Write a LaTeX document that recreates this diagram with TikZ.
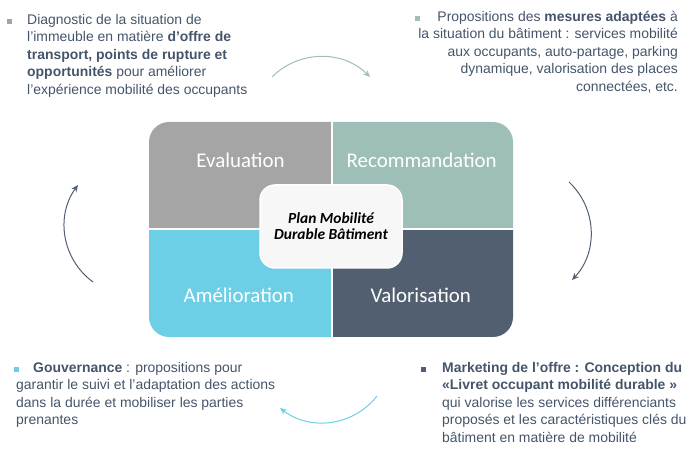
\documentclass[tikz,border=0pt]{standalone}
\usepackage{fontspec}
\setmainfont{Liberation Sans}
\newfontfamily\calibri{Carlito}
\usepackage{tikz}
\usetikzlibrary{%
  arrows.meta%
}
\definecolor{evalgrey}{HTML}{A5A5A5}
\definecolor{recogreen}{HTML}{9DBFB8}
\definecolor{amelcyan}{HTML}{6DCFE6}
\definecolor{valodark}{HTML}{515F70}
\definecolor{textblue}{HTML}{44546A}
\definecolor{hubfill}{HTML}{F7F7F7}
\newcommand{\puce}[1]{\textcolor{#1}{\rule{5bp}{5bp}}}

\begin{document}
\begin{tikzpicture}[x=1bp,y=1bp,
  quad/.style={draw=white,line width=1.2bp,minimum width=200bp,minimum height=130bp,inner sep=0pt},
  quadtxt/.style={text=white,font=\calibri\fontsize{21}{25}\selectfont,inner sep=0pt,anchor=base},
  hub/.style={fill=hubfill,draw=white,line width=1.5bp,rounded corners=15bp,minimum width=142bp,minimum height=83bp,align=center,font=\calibri\bfseries\itshape\fontsize{15.5}{16}\selectfont},
  note/.style={text=textblue,font=\fontsize{14}{17.6}\selectfont,inner sep=0pt},
  cycle/.style={line width=1bp,-{Stealth[length=7bp,width=6bp]}}]
\useasboundingbox (0,0) rectangle (699,456);

\begin{scope}
\clip[rounded corners=20bp] (149,119) rectangle (513,334);
\node[quad,fill=evalgrey,anchor=south east] (qeval) at (332,227) {};
\node[quad,fill=recogreen,anchor=south west] (qreco) at (332,227) {};
\node[quad,fill=amelcyan,anchor=north east] (qamel) at (332,227) {};
\node[quad,fill=valodark,anchor=north west] (qvalo) at (332,227) {};
\end{scope}

\node[quadtxt] (evaltxt) at (240.5,288) {Evaluation};
\node[quadtxt] (recotxt) at (421.7,288) {Recommandation};
\node[quadtxt] (ameltxt) at (238.8,153) {Amélioration};
\node[quadtxt] (valotxt) at (420.8,153) {Valorisation};

\node[hub] (plan) at (331,229.5) {Plan Mobilité\\Durable Bâtiment};

% base = last line
\node[note,anchor=base west,align=left] (diag) at (27,361.6)
  {\llap{\puce{evalgrey}\hspace{15bp}}Diagnostic de la situation de\\
   l’immeuble en matière \textbf{d’offre de}\\
   \textbf{transport, points de rupture et}\\
   \textbf{opportunités} pour améliorer\\
   l’expérience mobilité des occupants};
\node[note,anchor=base east,align=right] (propo) at (678,364.6)
  {\puce{recogreen}\hspace{17bp}Propositions des \textbf{mesures adaptées} à\\
   la situation du bâtiment : services mobilité\\
   aux occupants, auto-partage, parking\\
   dynamique, valorisation des places\\
   connectées, etc.};
\node[note,anchor=base west,align=left] (gouv) at (16,31.2)
  {\kern-2bp\puce{amelcyan}\hspace{14bp}\textbf{Gouvernance} : propositions pour\\
   garantir le suivi et l’adaptation des actions\\
   dans la durée et mobiliser les parties\\
   prenantes};
\node[note,anchor=base west,align=left] (market) at (442,13.6)
  {\llap{\puce{valodark}\hspace{16bp}}\textbf{Marketing de l’offre : Conception du}\\
   \textbf{«Livret occupant mobilité durable »}\\
   qui valorise les services différenciants\\
   proposés et les caractéristiques clés du\\
   bâtiment en matière de mobilité};

\coordinate (topS) at (272,379);
\coordinate (topE) at (370,379);
\coordinate (rightS) at (569,274);
\coordinate (rightE) at (572,176);
\coordinate (botS) at (377,60);
\coordinate (botE) at (280,48);
\coordinate (leftS) at (93,174);
\coordinate (leftE) at (78,271);
\draw[cycle,recogreen] (topS) to[bend left=45] (topE);
\draw[cycle,valodark] (rightS) to[bend left=45] (rightE);
\draw[cycle,amelcyan] (botS) to[bend left=45] (botE);
\draw[cycle,valodark] (leftS) to[bend left=45] (leftE);
\end{tikzpicture}
\end{document}
